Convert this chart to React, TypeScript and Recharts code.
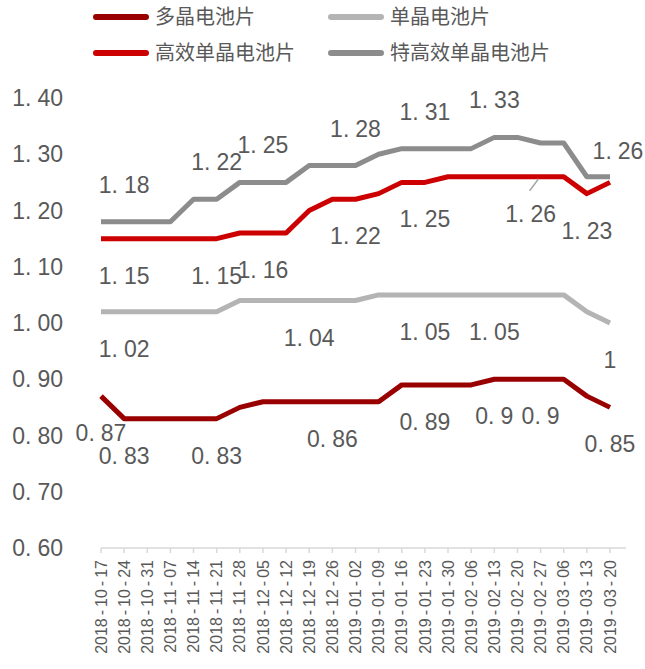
import React from 'react';
import { LineChart, Line, XAxis, YAxis, Legend } from 'recharts';

const dates = [
  '2018-10-17', '2018-10-24', '2018-10-31', '2018-11-07', '2018-11-14', '2018-11-21',
  '2018-11-28', '2018-12-05', '2018-12-12', '2018-12-19', '2018-12-26', '2019-01-02',
  '2019-01-09', '2019-01-16', '2019-01-23', '2019-01-30', '2019-02-06', '2019-02-13',
  '2019-02-20', '2019-02-27', '2019-03-06', '2019-03-13', '2019-03-20',
];

const polyPrice = [0.87, 0.83, 0.83, 0.83, 0.83, 0.83, 0.85, 0.86, 0.86, 0.86, 0.86, 0.86, 0.86, 0.89, 0.89, 0.89, 0.89, 0.9, 0.9, 0.9, 0.9, 0.87, 0.85];
const monoPrice = [1.02, 1.02, 1.02, 1.02, 1.02, 1.02, 1.04, 1.04, 1.04, 1.04, 1.04, 1.04, 1.05, 1.05, 1.05, 1.05, 1.05, 1.05, 1.05, 1.05, 1.05, 1.02, 1.0];
const highMonoPrice = [1.15, 1.15, 1.15, 1.15, 1.15, 1.15, 1.16, 1.16, 1.16, 1.2, 1.22, 1.22, 1.23, 1.25, 1.25, 1.26, 1.26, 1.26, 1.26, 1.26, 1.26, 1.23, 1.25];
const superMonoPrice = [1.18, 1.18, 1.18, 1.18, 1.22, 1.22, 1.25, 1.25, 1.25, 1.28, 1.28, 1.28, 1.3, 1.31, 1.31, 1.31, 1.31, 1.33, 1.33, 1.32, 1.32, 1.26, 1.26];

const yTicks = [0.6, 0.7, 0.8, 0.9, 1.0, 1.1, 1.2, 1.3, 1.4];

// indices of points that carry a data label
const polyLabelIdx = [0, 1, 5, 10, 14, 17, 19, 22];
const monoLabelIdx = [1, 9, 14, 17, 22];
const highMonoLabelIdx = [1, 5, 7, 11, 14, 19, 21];
const superMonoLabelIdx = [1, 5, 7, 11, 14, 17, 22];

const seriesNames = ['多晶电池片', '单晶电池片', '高效单晶电池片', '特高效单晶电池片'];

const data = dates.map((d, i) => ({
  date: d,
  poly: polyPrice[i],
  mono: monoPrice[i],
  high: highMonoPrice[i],
  super: superMonoPrice[i],
}));

const TEXT = '#595959';
const NUM_FONT = '"Liberation Sans", Arial, sans-serif';
const CJK_FONT = '"Noto Sans CJK SC", "Noto Sans", sans-serif';

const COLORS = {
  poly: '#990000',
  mono: '#b4b4b4',
  high: '#cc0000',
  super: '#8c8c8c',
};

const NumText = ({ x, y, value, anchor = 'middle' }: any) => {
  const s = String(value);
  const dot = s.indexOf('.');
  return (
    <text x={x} y={y} dy="0.35em" textAnchor={anchor} fill={TEXT} fontSize={23} fontFamily={NUM_FONT}>
      {dot < 0 ? (
        <tspan>{s}</tspan>
      ) : (
        <>
          <tspan>{s.slice(0, dot + 1)}</tspan>
          <tspan dx={6}>{s.slice(dot + 1)}</tspan>
        </>
      )}
    </text>
  );
};

type Special = Record<number, { dx: number; dy: number; leader?: boolean }>;

const makeLabel = (indices: number[], place: 'above' | 'below', special: Special = {}) => (props: any) => {
  const { x, y, value, index } = props;
  if (!indices.includes(index) || x == null || y == null) return <g key={`nl-${index}`} />;
  const sp = special[index];
  const dx = sp ? sp.dx : 0;
  const dy = sp ? sp.dy : place === 'above' ? -37 : 37;
  return (
    <g key={`l-${index}`}>
      {sp && sp.leader ? (
        <line x1={x - 2} y1={y + 2} x2={x - 11} y2={y + 14} stroke="#a6a6a6" strokeWidth={1.5} />
      ) : null}
      <NumText x={x + dx} y={y + dy} value={value} />
    </g>
  );
};

const YTick = (props: any) => {
  const { x, y, payload } = props;
  return <NumText x={x - 38} y={y} value={Number(payload.value).toFixed(2)} anchor="end" />;
};

const XTick = (props: any) => {
  const { x, y, payload } = props;
  const parts = String(payload.value).split('-');
  return (
    <text
      transform={`translate(${x},${y + 7}) rotate(-90)`}
      textAnchor="end"
      dy="0.35em"
      fill={TEXT}
      fontSize={16}
      fontFamily={NUM_FONT}
    >
      <tspan>{parts[0]}</tspan>
      <tspan dx={3}>-</tspan>
      <tspan dx={3}>{parts[1]}</tspan>
      <tspan dx={3}>-</tspan>
      <tspan dx={3}>{parts[2]}</tspan>
    </text>
  );
};

const legendItems = [
  { name: seriesNames[0], color: COLORS.poly, col: 0, row: 0 },
  { name: seriesNames[1], color: COLORS.mono, col: 1, row: 0 },
  { name: seriesNames[2], color: COLORS.high, col: 0, row: 1 },
  { name: seriesNames[3], color: COLORS.super, col: 1, row: 1 },
];

const LegendContent = () => {
  const colX = [93, 328];
  const rowY = [17, 53];
  return (
    <svg width={645} height={70} style={{ display: 'block' }}>
      {legendItems.map((it) => {
        const lx = colX[it.col];
        const ly = rowY[it.row];
        return (
          <g key={it.name}>
            <line x1={lx + 3} y1={ly} x2={lx + 53} y2={ly} stroke={it.color} strokeWidth={6} strokeLinecap="round" />
            <text x={lx + 62} y={ly} dy="0.35em" fill={TEXT} fontSize={20} fontFamily={CJK_FONT}>
              {it.name}
            </text>
          </g>
        );
      })}
    </svg>
  );
};

export default function App() {
  return (
    <div style={{ position: 'absolute', left: 0, top: 0, width: 645, height: 669, background: '#fff' }}>
      <LineChart width={645} height={669} data={data} margin={{ top: 28, right: 19, bottom: 0, left: 0 }}>
        <Legend
          verticalAlign="top"
          align="left"
          content={<LegendContent />}
          wrapperStyle={{ top: 0, left: 0, width: 645, height: 70, lineHeight: 0 }}
        />
        <XAxis
          dataKey="date"
          scale="point"
          padding={{ left: 0, right: 16 }}
          interval={0}
          height={121}
          tickSize={5}
          tickMargin={0}
          axisLine={{ stroke: '#d9d9d9', strokeWidth: 1.5 }}
          tickLine={{ stroke: '#d9d9d9', strokeWidth: 1.5 }}
          tick={<XTick />}
        />
        <YAxis
          domain={[0.6, 1.4]}
          ticks={yTicks}
          width={101}
          axisLine={false}
          tickLine={false}
          tickSize={0}
          tickMargin={0}
          tick={<YTick />}
          interval={0}
        />
        <Line
          dataKey="poly"
          name={seriesNames[0]}
          stroke={COLORS.poly}
          strokeWidth={5}
          dot={false}
          activeDot={false}
          isAnimationActive={false}
          strokeLinejoin="round"
          label={makeLabel(polyLabelIdx, 'below')}
        />
        <Line
          dataKey="mono"
          name={seriesNames[1]}
          stroke={COLORS.mono}
          strokeWidth={5}
          dot={false}
          activeDot={false}
          isAnimationActive={false}
          strokeLinejoin="round"
          label={makeLabel(monoLabelIdx, 'below')}
        />
        <Line
          dataKey="high"
          name={seriesNames[2]}
          stroke={COLORS.high}
          strokeWidth={5}
          dot={false}
          activeDot={false}
          isAnimationActive={false}
          strokeLinejoin="round"
          label={makeLabel(highMonoLabelIdx, 'below', { 19: { dx: -10, dy: 37, leader: true } })}
        />
        <Line
          dataKey="super"
          name={seriesNames[3]}
          stroke={COLORS.super}
          strokeWidth={5}
          dot={false}
          activeDot={false}
          isAnimationActive={false}
          strokeLinejoin="round"
          label={makeLabel(superMonoLabelIdx, 'above', { 22: { dx: 8, dy: -26 } })}
        />
      </LineChart>
    </div>
  );
}
